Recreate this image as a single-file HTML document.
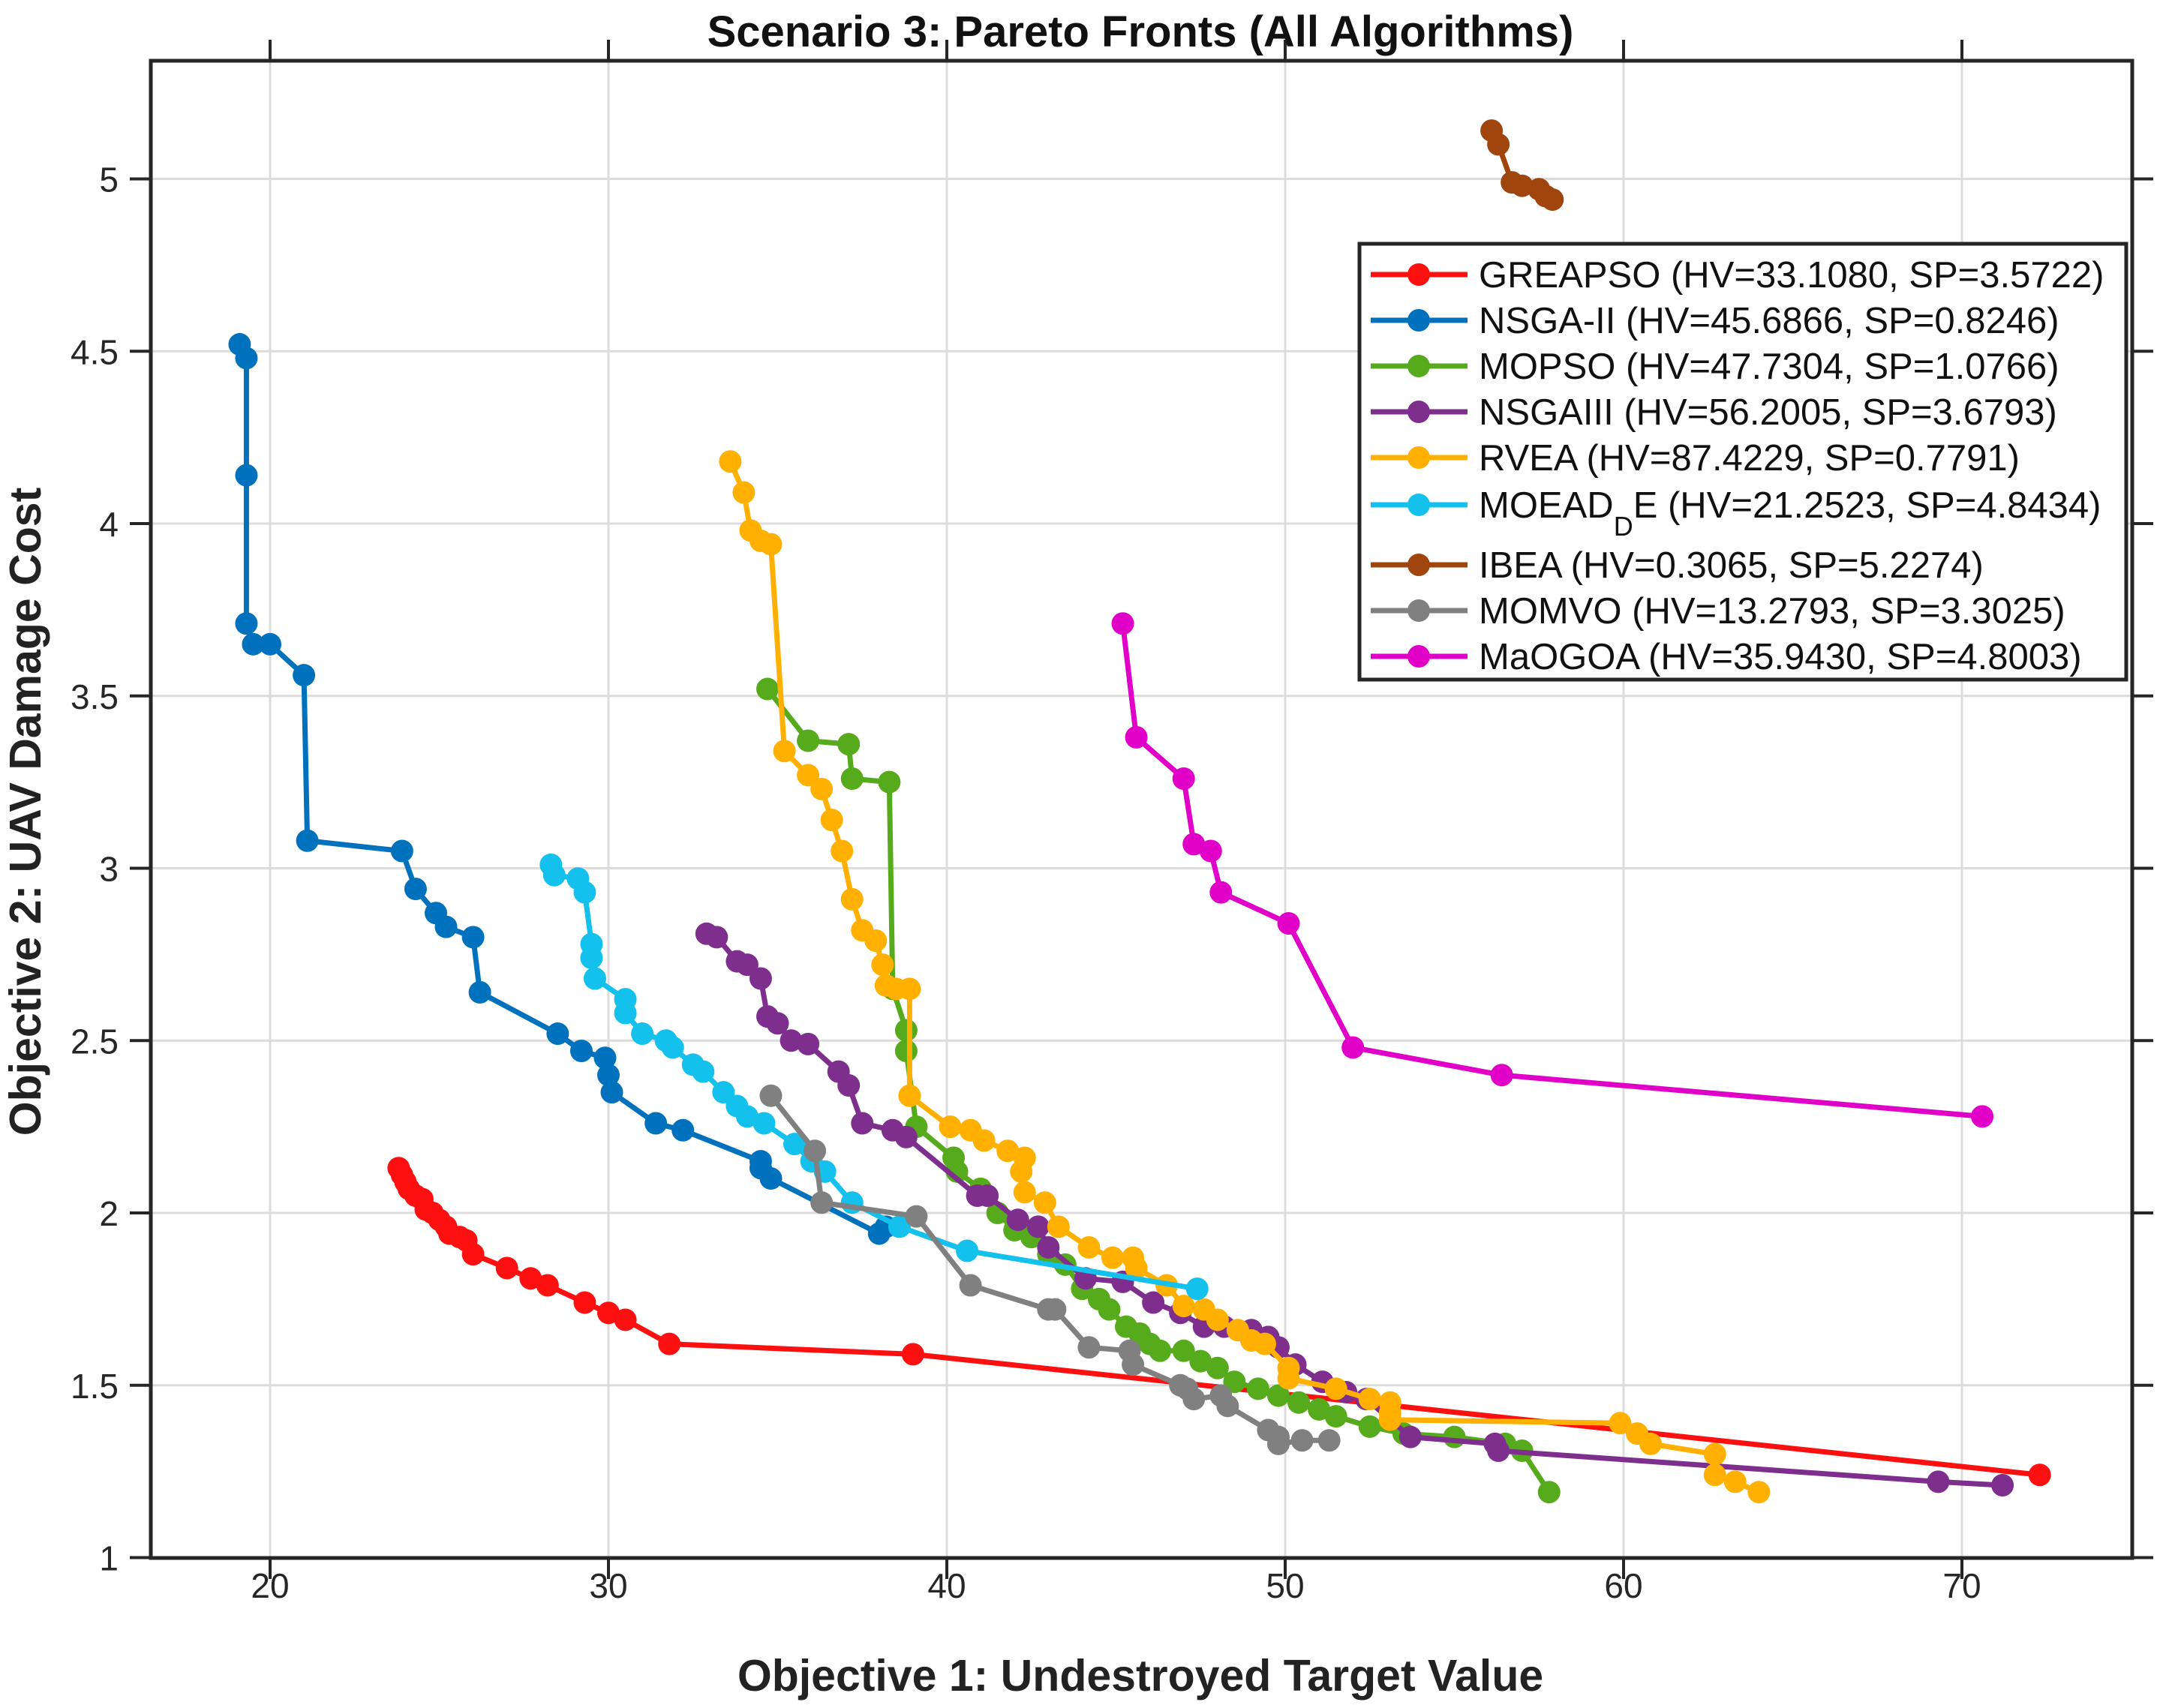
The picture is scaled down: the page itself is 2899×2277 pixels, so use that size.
<!DOCTYPE html>
<html><head><meta charset="utf-8"><style>
html,body{margin:0;padding:0;background:#fff;}
svg{display:block;font-family:"Liberation Sans",Arial,sans-serif;}
</style></head><body>
<svg id="chart" width="2899" height="2277" viewBox="0 0 2899 2277" xmlns="http://www.w3.org/2000/svg">
<rect width="2899" height="2277" fill="#fff"/>
<g id="grid"></g>
<g id="series"></g>
<g id="axes"></g>
<text x="1520" y="62" text-anchor="middle" font-size="58" font-weight="bold" fill="#111">Scenario 3: Pareto Fronts (All Algorithms)</text>
<text x="1520" y="2254" text-anchor="middle" font-size="59" font-weight="bold" fill="#222">Objective 1: Undestroyed Target Value</text>
<text transform="translate(54,1082) rotate(-90)" text-anchor="middle" font-size="59" font-weight="bold" fill="#222">Objective 2: UAV Damage Cost</text>
<g id="legend"></g>
</svg>
<script>
const xTicks=[20,30,40,50,60,70];
const yTicks=[1,1.5,2,2.5,3,3.5,4,4.5,5];
const yTickLabels=["1","1.5","2","2.5","3","3.5","4","4.5","5"];
const names=["GREAPSO (HV=33.1080, SP=3.5722)","NSGA-II (HV=45.6866, SP=0.8246)","MOPSO (HV=47.7304, SP=1.0766)","NSGAIII (HV=56.2005, SP=3.6793)","RVEA (HV=87.4229, SP=0.7791)","MOEAD_DE (HV=21.2523, SP=4.8434)","IBEA (HV=0.3065, SP=5.2274)","MOMVO (HV=13.2793, SP=3.3025)","MaOGOA (HV=35.9430, SP=4.8003)"];
const colors=["#ff1010","#0072bd","#56ab1c","#7e2f8e","#ffb000","#14c0ec","#a0450e","#808080","#e000c8"];
const greapsoX=[23.8,23.9,24.0,24.1,24.3,24.5,24.6,24.8,25.0,25.2,25.3,25.6,25.8,26.0,27.0,27.7,28.2,29.3,30.0,30.5,31.8,39.0,72.3];
const greapsoY=[2.13,2.11,2.09,2.07,2.05,2.04,2.01,2.00,1.98,1.96,1.94,1.93,1.92,1.88,1.84,1.81,1.79,1.74,1.71,1.69,1.62,1.59,1.24];
const nsga2X=[19.1,19.3,19.3,19.3,19.5,20.0,21.0,21.1,23.9,24.3,24.9,25.2,26.0,26.2,28.5,29.2,29.9,30.0,30.1,31.4,32.2,34.5,34.5,34.8,38.0,38.2];
const nsga2Y=[4.52,4.48,4.14,3.71,3.65,3.65,3.56,3.08,3.05,2.94,2.87,2.83,2.80,2.64,2.52,2.47,2.45,2.40,2.35,2.26,2.24,2.15,2.13,2.10,1.94,1.96];
const mopsoX=[34.7,35.9,37.1,37.2,38.3,38.4,38.8,38.8,39.1,40.2,40.3,41.0,41.5,42.0,42.5,43.0,43.5,44.0,44.5,44.8,45.3,45.7,46.0,46.3,47.0,47.5,48.0,48.5,49.2,49.8,50.4,51.0,51.5,52.5,53.5,55.0,56.5,57.0,57.8];
const mopsoY=[3.52,3.37,3.36,3.26,3.25,2.65,2.53,2.47,2.25,2.16,2.12,2.07,2.00,1.95,1.93,1.88,1.85,1.78,1.75,1.72,1.67,1.65,1.62,1.60,1.60,1.57,1.55,1.51,1.49,1.47,1.45,1.43,1.41,1.38,1.36,1.35,1.33,1.31,1.19];
const nsga3X=[32.9,33.2,33.8,34.1,34.5,34.7,35.0,35.4,35.9,36.8,37.1,37.5,38.4,38.8,40.9,41.2,42.1,42.7,43.0,44.1,45.2,46.1,46.9,47.6,48.2,49.0,49.5,49.8,50.3,51.1,51.8,52.4,53.7,56.2,56.3,69.3,71.2];
const nsga3Y=[2.81,2.80,2.73,2.72,2.68,2.57,2.55,2.50,2.49,2.41,2.37,2.26,2.24,2.22,2.05,2.05,1.98,1.96,1.90,1.81,1.80,1.74,1.71,1.67,1.67,1.66,1.64,1.61,1.56,1.51,1.48,1.46,1.35,1.33,1.31,1.22,1.21];
const rveaX=[33.6,34.0,34.2,34.5,34.8,35.2,35.9,36.3,36.6,36.9,37.2,37.5,37.9,38.1,38.2,38.5,38.9,38.9,40.1,40.7,41.1,41.8,42.3,42.2,42.3,42.9,43.3,44.2,44.9,45.5,45.6,46.5,47.0,47.6,48.0,48.6,49.0,49.4,50.1,50.1,51.5,52.5,53.1,53.1,53.1,59.9,60.4,60.8,62.7,62.7,63.3,64.0];
const rveaY=[4.18,4.09,3.98,3.95,3.94,3.34,3.27,3.23,3.14,3.05,2.91,2.82,2.79,2.72,2.66,2.65,2.65,2.34,2.25,2.24,2.21,2.18,2.16,2.12,2.06,2.03,1.96,1.90,1.87,1.87,1.84,1.79,1.73,1.72,1.69,1.66,1.63,1.62,1.55,1.52,1.49,1.46,1.45,1.42,1.40,1.39,1.36,1.33,1.30,1.24,1.22,1.19];
const moeadX=[28.3,28.4,29.1,29.3,29.5,29.5,29.6,30.5,30.5,31.0,31.7,31.9,32.5,32.8,33.4,33.8,34.1,34.6,35.5,36.0,36.4,37.2,38.6,40.6,47.4];
const moeadY=[3.01,2.98,2.97,2.93,2.78,2.74,2.68,2.62,2.58,2.52,2.50,2.48,2.43,2.41,2.35,2.31,2.28,2.26,2.20,2.15,2.12,2.03,1.96,1.89,1.78];
const ibeaX=[56.1,56.3,56.7,57.0,57.5,57.7,57.9];
const ibeaY=[5.14,5.10,4.99,4.98,4.97,4.95,4.94];
const momvoX=[34.8,36.1,36.3,39.1,40.7,43.0,43.2,44.2,45.4,45.5,46.9,47.1,47.3,48.1,48.3,49.5,49.8,49.8,50.5,51.3];
const momvoY=[2.34,2.18,2.03,1.99,1.79,1.72,1.72,1.61,1.60,1.56,1.50,1.49,1.46,1.47,1.44,1.37,1.35,1.33,1.34,1.34];
const maogoaX=[45.2,45.6,47.0,47.3,47.8,48.1,50.1,52.0,56.4,70.6];
const maogoaY=[3.71,3.38,3.26,3.07,3.05,2.93,2.84,2.48,2.40,2.28];

const seriesX=[greapsoX,nsga2X,mopsoX,nsga3X,rveaX,moeadX,ibeaX,momvoX,maogoaX];
const seriesY=[greapsoY,nsga2Y,mopsoY,nsga3Y,rveaY,moeadY,ibeaY,momvoY,maogoaY];
const slugs=["greapso","nsga2","mopso","nsga3","rvea","moead-de","ibea","momvo","maogoa"];
const NS="http://www.w3.org/2000/svg";
const L=201,R=2842,T=81,B=2077;
function sx(v){return 360+(v-20)*45.1;}
function sy(v){return 2076.5-(v-1)*459.5;}
function mk(tag,attrs,parent){const e=document.createElementNS(NS,tag);for(const k in attrs)e.setAttribute(k,attrs[k]);parent.appendChild(e);return e;}
const grid=document.getElementById('grid'),axes=document.getElementById('axes'),ser=document.getElementById('series'),leg=document.getElementById('legend');
xTicks.forEach(t=>{
  const x=sx(t);
  const g=mk('line',{x1:x,x2:x,y1:T,y2:B,stroke:'#dcdcdc','stroke-width':3},grid);
  
  
  const tb=mk('line',{x1:x,x2:x,y1:B,y2:B+28,stroke:'#262626','stroke-width':4},axes);
  
  
  const tt=mk('line',{x1:x,x2:x,y1:T-28,y2:T,stroke:'#262626','stroke-width':4},axes);
  
  
  const lb=mk('text',{x:x,y:2130,'text-anchor':'middle','font-size':46,fill:'#262626'},axes);
  lb.textContent=t;
  
  
});
yTicks.forEach((t,i)=>{
  const y=sy(t);
  const g=mk('line',{x1:L,x2:R,y1:y,y2:y,stroke:'#dcdcdc','stroke-width':3},grid);
  
  
  const tl=mk('line',{x1:L-28,x2:L,y1:y,y2:y,stroke:'#262626','stroke-width':4},axes);
  
  
  const tr=mk('line',{x1:R,x2:R+28,y1:y,y2:y,stroke:'#262626','stroke-width':4},axes);
  
  
  const lb=mk('text',{x:158,y:y+17,'text-anchor':'end','font-size':46,fill:'#262626'},axes);
  lb.textContent=yTickLabels[i];
  
  
});
const box=mk('rect',{x:L,y:T,width:R-L,height:B-T,fill:'none',stroke:'#262626','stroke-width':5},axes);


seriesX.forEach((xs,si)=>{
  const g=mk('g',{},ser);
  
  
  const pts=xs.map((v,i)=>sx(v)+','+sy(seriesY[si][i])).join(' ');
  const pl=mk('polyline',{points:pts,fill:'none',stroke:colors[si],'stroke-width':7,'stroke-linejoin':'round'},g);
  
  
  xs.forEach((v,i)=>{
    const c=mk('circle',{cx:sx(v),cy:sy(seriesY[si][i]),r:15,fill:colors[si]},g);
    
    
  });
});
const lbox=mk('rect',{x:1812,y:325,width:1022,height:581,fill:'#fff',stroke:'#262626','stroke-width':5},leg);


const rowY=[366,427,488,549,610,673,753,814,875];
names.forEach((n,i)=>{
  const y=rowY[i];
  const g=mk('g',{},leg);
  
  
  mk('line',{x1:1827,x2:1956,y1:y,y2:y,stroke:colors[i],'stroke-width':7},g);
  mk('circle',{cx:1891,cy:y,r:15,fill:colors[i]},g);
  const t=mk('text',{x:1971,y:y+17,'font-size':49,fill:'#111'},g);
  if(n.indexOf('MOEAD_DE')===0){
    t.appendChild(document.createTextNode('MOEAD'));
    const s=mk('tspan',{dy:24,'font-size':36},t);s.textContent='D';
    const r=mk('tspan',{dy:-24},t);r.textContent='E (HV=21.2523, SP=4.8434)';
  } else t.textContent=n;
});
</script>
</body></html>
